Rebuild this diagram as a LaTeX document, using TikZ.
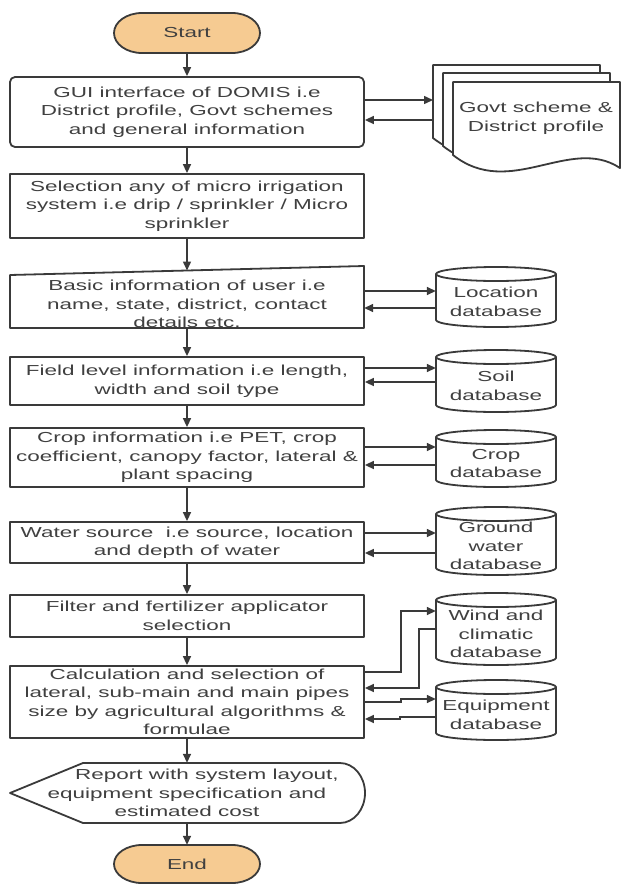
\documentclass[tikz,border=0pt]{standalone}
\usepackage{fontspec}
\setmainfont{Liberation Sans}[FakeStretch=1.55]
\usetikzlibrary{arrows.meta}
\definecolor{lc}{RGB}{58,58,58}
\definecolor{tc}{RGB}{64,64,64}
\definecolor{term}{RGB}{246,203,146}
\tikzset{
  shapeline/.style={draw=lc, line width=1.8pt, line join=round},
  txt/.style={text=tc, font=\fontsize{14.5}{18.5}\selectfont, align=center, inner sep=0pt},
  procbox/.style={txt, shapeline, fill=white, minimum width=354pt},
  arr/.style={draw=lc, line width=1.5pt, -{Triangle[length=9pt,width=8pt]}},
}
\newcommand{\dbcyl}[5]{%
  \path[shapeline, fill=white] (#2,#3+7) -- (#2,#4-7)
    arc[start angle=180,end angle=0,x radius=60,y radius=7] -- (#2+120,#3+7)
    arc[start angle=0,end angle=-180,x radius=60,y radius=7] -- cycle;
  \path[shapeline] (#2,#3+7) arc[start angle=180,end angle=0,x radius=60,y radius=7];
  \node[txt, minimum width=120pt, minimum height={#4-#3}] (#1) at (#2+60,{(#3+#4)/2+5}) {#5};}
\begin{document}
\begin{tikzpicture}[x=1pt,y=-1pt]
\useasboundingbox[fill=white] (0,0) rectangle (622,884);

% Start
\path[shapeline, fill=term] (142,13) -- (232,13) arc[start angle=-90,end angle=90,x radius=28,y radius=20]
  -- (142,53) arc[start angle=90,end angle=270,x radius=28,y radius=20] -- cycle;
\node[txt, minimum width=146pt, minimum height=40pt] (start) at (187,33) {Start};

% GUI
\node[procbox, rounded corners=5pt, minimum height=70pt] (gui) at (187,112)
  {GUI interface of DOMIS i.e\\District profile, Govt schemes\\and general information};

% document stack
\foreach \ox/\oy in {433/65, 443/73, 453/82}{
  \begin{scope}[shift={(\ox,\oy)}]
    \path[shapeline, fill=white] (0,0) -- (167,0) -- (167,86) .. controls (117,53) and (57,118) .. (0,73) -- cycle;
  \end{scope}
}
\coordinate (govtleft) at (433,110);
\node[txt] (govt) at (536,118) {Govt scheme \&\\District profile};

% Selection
\node[procbox, minimum height=64pt] (sel) at (187,206)
  {Selection any of micro irrigation\\system i.e drip / sprinkler / Micro\\sprinkler};

% Basic information (manual input)
\path[shapeline, fill=white] (10,275) -- (364,266) -- (364,328) -- (10,328) -- cycle;
\coordinate (basictop) at (187,270.5);
\node[txt, minimum width=354pt, minimum height=48pt] (basic) at (187,304)
  {Basic information of user i.e\\name, state, district, contact\\details etc.};

% Other process boxes
\node[procbox, minimum height=48pt] (field) at (187,381)
  {Field level information i.e length,\\width and soil type};
\node[procbox, minimum height=59pt] (crop) at (187,457.5)
  {Crop information i.e PET, crop\\coefficient, canopy factor, lateral \&\\plant spacing};
\node[procbox, minimum height=41pt] (water) at (187,542.5)
  {Water source\ \ i.e source, location\\and depth of water};
\node[procbox, minimum height=42pt] (filter) at (187,616)
  {Filter and fertilizer applicator\\selection};
\node[procbox, minimum height=72pt] (calc) at (187,702)
  {Calculation and selection of\\lateral, sub-main and main pipes\\size by agricultural algorithms \&\\formulae};

% Report (display shape)
\path[shapeline, fill=white] (10,793) -- (83,763) -- (340,763)
  arc[start angle=-90,end angle=90,x radius=25,y radius=30] -- (83,823) -- cycle;
\node[txt, minimum width=354pt, minimum height=60pt] (rep) at (187,793)
  {\hspace*{40pt}Report with system layout,\\equipment specification and\\estimated cost};

% End
\path[shapeline, fill=term] (142,845) -- (232,845) arc[start angle=-90,end angle=90,x radius=28,y radius=19]
  -- (142,883) arc[start angle=90,end angle=270,x radius=28,y radius=19] -- cycle;
\node[txt, minimum width=146pt, minimum height=38pt] (endn) at (187,864) {End};

% Databases
\dbcyl{loc}{436}{267}{327}{Location\\database}
\dbcyl{soil}{436}{350}{412}{Soil\\database}
\dbcyl{cropdb}{436}{430}{487}{Crop\\database}
\dbcyl{ground}{436}{507}{575}{Ground\\water\\database}
\dbcyl{wind}{436}{593}{665}{Wind and\\climatic\\database}
\dbcyl{equip}{436}{680}{740}{Equipment\\database}

% main flow
\draw[arr] (start) -- (gui);
\draw[arr] (gui) -- (sel);
\draw[arr] (sel) -- (basictop);
\draw[arr] (basic) -- (field);
\draw[arr] (field) -- (crop);
\draw[arr] (crop) -- (water);
\draw[arr] (water) -- (filter);
\draw[arr] (filter) -- (calc);
\draw[arr] (calc) -- (rep);
\draw[arr] (rep) -- (endn);

% side connectors
\draw[arr] (gui.east |- 0,100) -- (govtleft |- 0,100);
\draw[arr] (govtleft |- 0,120) -- (gui.east |- 0,120);
\draw[arr] (basic.east |- 0,291) -- (loc.west |- 0,291);
\draw[arr] (loc.west |- 0,308) -- (basic.east |- 0,308);
\draw[arr] (field.east |- 0,368) -- (soil.west |- 0,368);
\draw[arr] (soil.west |- 0,382) -- (field.east |- 0,382);
\draw[arr] (crop.east |- 0,447) -- (cropdb.west |- 0,447);
\draw[arr] (cropdb.west |- 0,465) -- (crop.east |- 0,465);
\draw[arr] (water.east |- 0,533) -- (ground.west |- 0,533);
\draw[arr] (ground.west |- 0,553) -- (water.east |- 0,553);
\draw[arr] (calc.east |- 0,672) -- ++(36,0) |- (wind.west |- 0,611);
\draw[arr] (wind.west |- 0,629) -- ++(-17,0) |- (calc.east |- 0,688);
\draw[arr] (calc.east |- 0,702) -- ++(36,0) -- ++(0,-3) -- (equip.west |- 0,699);
\draw[arr] (equip.west |- 0,717) -- ++(-36,0) -- ++(0,2) -- (calc.east |- 0,719);
\end{tikzpicture}
\end{document}
